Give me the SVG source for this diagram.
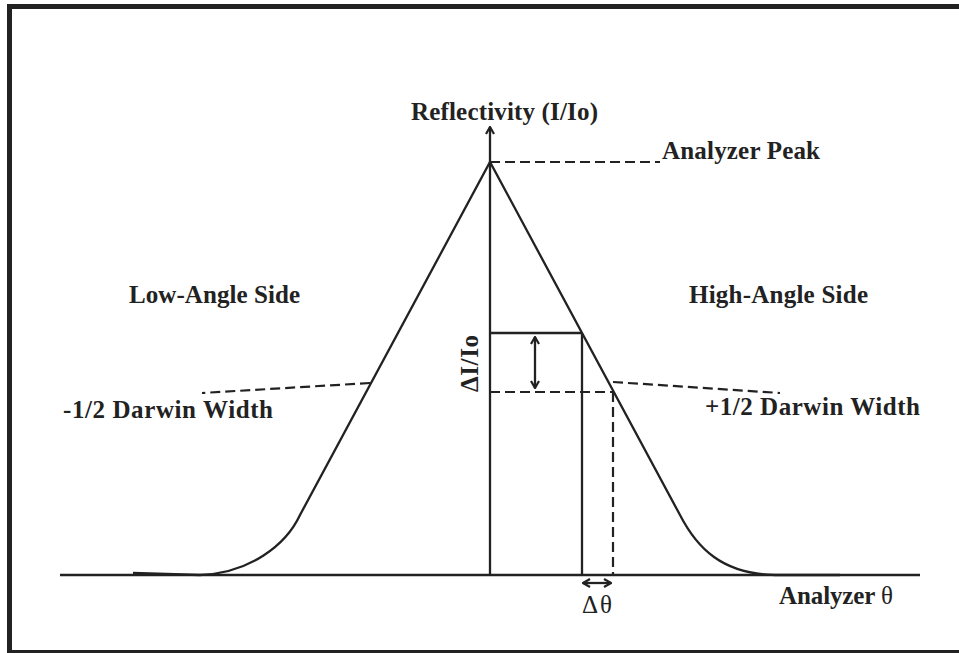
<svg xmlns="http://www.w3.org/2000/svg" width="959" height="653" viewBox="0 0 959 653">
  <defs>
    <marker id="arr" viewBox="0 0 10 10" refX="9" refY="5" markerWidth="10" markerHeight="10" markerUnits="userSpaceOnUse" orient="auto-start-reverse">
      <path d="M2,1 L9,5 L2,9" fill="none" stroke="#222" stroke-width="2.2"/>
    </marker>
    <style>
      .ln { stroke: #222; stroke-width: 2.3; fill: none; }
      .ds { stroke: #222; stroke-width: 2.2; fill: none; stroke-dasharray: 10 5; }
      .lb { font-family: "Liberation Serif", "Times New Roman", serif; font-weight: bold; font-size: 25px; fill: #222; }
      .rg { font-family: "Liberation Serif", "Times New Roman", serif; font-size: 25px; fill: #222; }
    </style>
  </defs>
  <rect width="959" height="653" fill="#fff"/>
  <g id="frame">
    <path d="M9.5,653 L9.5,6.5 L959,6.5" fill="none" stroke="#222" stroke-width="5"/>
    <line x1="9" y1="651.5" x2="959" y2="651.5" stroke="#222" stroke-width="3"/>
  </g>
  <g id="connectors">
    <line id="baseline" class="ln" x1="60" y1="575" x2="920" y2="575"/>
    <line id="y-axis" class="ln" x1="490" y1="575" x2="490" y2="127" marker-end="url(#arr)"/>
    <path id="curve" class="ln" d="M133,573 L200,575 C250,573 286,545 300,515 L490,162 L680,515 C697,548 722,574 775,575 L840,575"/>
    <line class="ds" x1="490" y1="162" x2="660" y2="162"/>
    <line class="ln" x1="490" y1="333" x2="582" y2="333"/>
    <line class="ln" x1="582" y1="333" x2="582" y2="575"/>
    <line class="ds" x1="490" y1="392" x2="613" y2="392"/>
    <line class="ds" x1="613" y1="392" x2="613" y2="575"/>
    <line class="ln" x1="535" y1="337" x2="535" y2="388" marker-start="url(#arr)" marker-end="url(#arr)"/>
    <line class="ln" x1="583" y1="583" x2="611" y2="583" marker-start="url(#arr)" marker-end="url(#arr)"/>
    <line class="ds" x1="370" y1="383" x2="202" y2="393"/>
    <line class="ds" x1="613" y1="382" x2="780" y2="393"/>
  </g>
  <g id="label-reflectivity"><text class="lb" x="411" y="120" textLength="187">Reflectivity (I/Io)</text></g>
  <g id="label-peak"><text class="lb" x="662" y="159" textLength="158">Analyzer Peak</text></g>
  <g id="label-low"><text class="lb" x="129" y="303" textLength="171">Low-Angle Side</text></g>
  <g id="label-high"><text class="lb" x="689" y="303" textLength="179">High-Angle Side</text></g>
  <g id="label-minus"><text class="lb" x="63" y="418" textLength="210">-1/2 Darwin Width</text></g>
  <g id="label-plus"><text class="lb" x="705" y="415" textLength="215">+1/2 Darwin Width</text></g>
  <g id="label-di"><text class="lb" transform="translate(478,392) rotate(-90)" x="0" y="0" textLength="57">ΔI/Io</text></g>
  <g id="label-dtheta"><text class="rg" x="582" y="613" textLength="30">Δθ</text></g>
  <g id="label-analyzer"><text class="lb" x="779" y="604" textLength="114">Analyzer <tspan font-weight="normal">θ</tspan></text></g>
</svg>
